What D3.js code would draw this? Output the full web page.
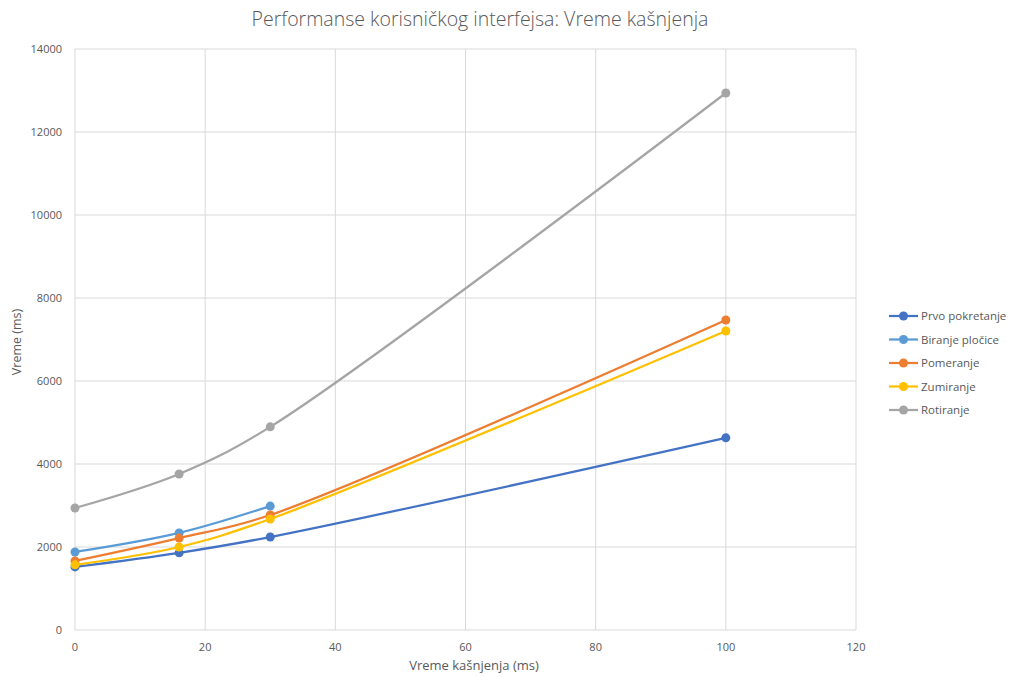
<!DOCTYPE html>
<html>
<head>
<meta charset="utf-8">
<script src="https://cdn.jsdelivr.net/npm/d3@7"></script>
<style>
  body { margin: 0; background: #fff; }
  svg text { font-family: "Open Sans", "Liberation Sans", sans-serif; fill: #595959; }
</style>
</head>
<body>
<svg id="chart" width="1011" height="677"></svg>
<script>
// data
const xValues = [0, 16, 30, 100];
const seriesNames = ["Prvo pokretanje", "Biranje pločice", "Pomeranje", "Zumiranje", "Rotiranje"];
const seriesColors = ["#4472C4", "#5B9BD5", "#ED7D31", "#FFC000", "#A5A5A5"];
const prvo = [1520, 1860, 2240, 4630];
const biranje = [1880, 2340, 2985];
const pomeranje = [1665, 2215, 2770, 7470];
const zumiranje = [1570, 2000, 2675, 7205];
const rotiranje = [2940, 3760, 4895, 12940];
const xTicks = [0, 20, 40, 60, 80, 100, 120];
const yTicks = [0, 2000, 4000, 6000, 8000, 10000, 12000, 14000];

const allSeries = [prvo, biranje, pomeranje, zumiranje, rotiranje];

var svg = d3.select("#chart");

var x = d3.scaleLinear().domain([0, 120]).range([75, 856]);
var y = d3.scaleLinear().domain([0, 14000]).range([630, 49]);

// gridlines
svg.append("g")
  .selectAll("line.h")
  .data(yTicks)
  .enter()
  .append("line")
  .attr("x1", x(0)).attr("x2", x(120))
  .attr("y1", d => y(d)).attr("y2", d => y(d))
  .attr("stroke", "#d9d9d9").attr("stroke-width", 1);

svg.append("g")
  .selectAll("line.v")
  .data(xTicks)
  .enter()
  .append("line")
  .attr("x1", d => x(d)).attr("x2", d => x(d))
  .attr("y1", y(0)).attr("y2", y(14000))
  .attr("stroke", "#d9d9d9").attr("stroke-width", 1);

// tick labels
svg.append("g")
  .selectAll("text")
  .data(yTicks)
  .enter()
  .append("text")
  .attr("x", 62)
  .attr("y", d => y(d) + 4)
  .attr("text-anchor", "end")
  .attr("font-size", 11)
  .text(d => d);

svg.append("g")
  .selectAll("text")
  .data(xTicks)
  .enter()
  .append("text")
  .attr("x", d => x(d))
  .attr("y", 651)
  .attr("text-anchor", "middle")
  .attr("font-size", 11)
  .text(d => d);

// titles
svg.append("text")
  .attr("x", 480).attr("y", 26)
  .attr("text-anchor", "middle")
  .attr("font-size", 19.5)
  .attr("font-weight", 300)
  .text("Performanse korisničkog interfejsa: Vreme kašnjenja");

svg.append("text")
  .attr("x", 474).attr("y", 670)
  .attr("text-anchor", "middle")
  .attr("font-size", 13)
  .text("Vreme kašnjenja (ms)");

svg.append("text")
  .attr("transform", "translate(21,342) rotate(-90)")
  .attr("text-anchor", "middle")
  .attr("font-size", 12.5)
  .text("Vreme (ms)");

// lines (smoothed like the spreadsheet)
var line = d3.line()
  .x((d, i) => x(xValues[i]))
  .y(d => y(d))
  .curve(d3.curveCatmullRom.alpha(0.5));

allSeries.forEach(function(s, k) {
  var g = svg.append("g");
  g.append("path")
    .attr("d", line(s))
    .attr("fill", "none")
    .attr("stroke", seriesColors[k])
    .attr("stroke-width", 2.25);
  g.selectAll("circle")
    .data(s)
    .enter()
    .append("circle")
    .attr("cx", (d, i) => x(xValues[i]))
    .attr("cy", d => y(d))
    .attr("r", 4.5)
    .attr("fill", seriesColors[k]);
});

// legend
var legend = svg.append("g");
seriesNames.forEach(function(name, k) {
  var ly = 316 + k * 23.5;
  legend.append("line")
    .attr("x1", 889).attr("x2", 918)
    .attr("y1", ly).attr("y2", ly)
    .attr("stroke", seriesColors[k]).attr("stroke-width", 2.25);
  legend.append("circle")
    .attr("cx", 903.5).attr("cy", ly).attr("r", 4.5)
    .attr("fill", seriesColors[k]);
  legend.append("text")
    .attr("x", 921).attr("y", ly + 4)
    .attr("font-size", 11.5)
    .text(name);
});
</script>
</body>
</html>
